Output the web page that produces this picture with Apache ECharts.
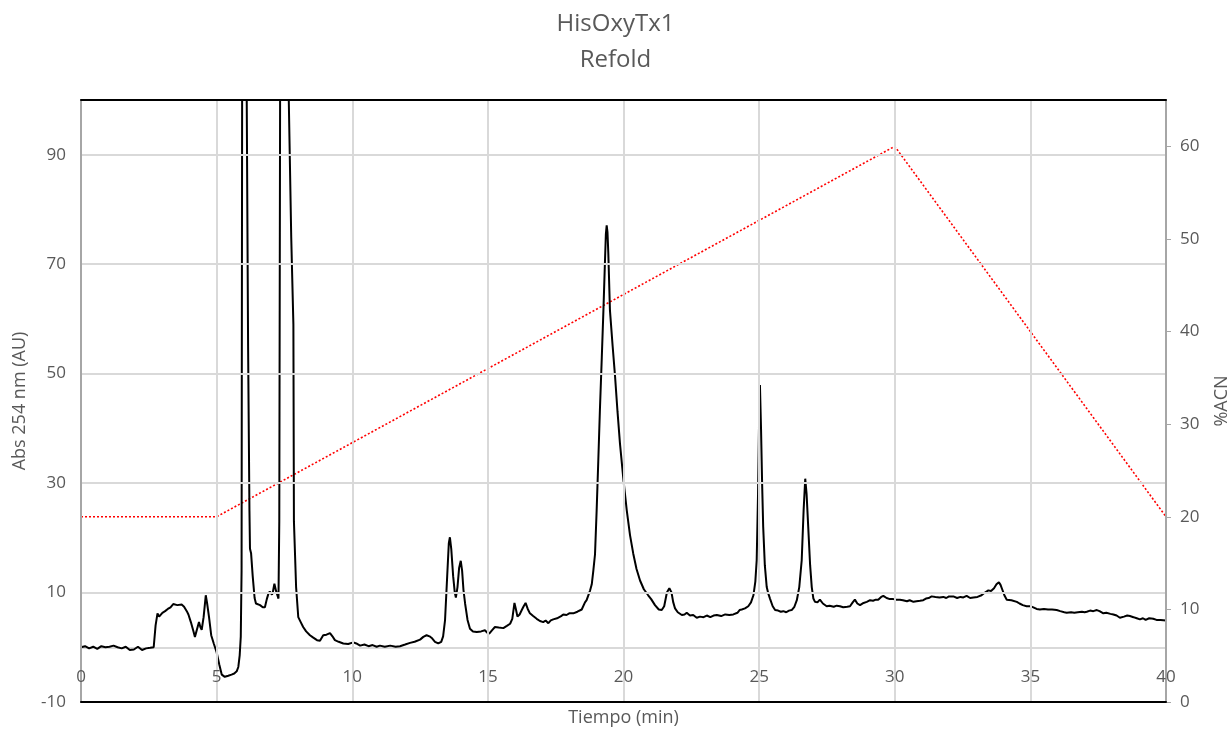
<!DOCTYPE html>
<html>
<head>
<meta charset="utf-8">
<title>HisOxyTx1 Refold</title>
<script src="https://cdn.jsdelivr.net/npm/echarts@6/dist/echarts.min.js"></script>
<style>
  html, body { margin: 0; padding: 0; background: #fff; }
  #chart { width: 1231px; height: 730px; }
</style>
</head>
<body>
<div id="chart"></div>
<script>
// Chromatogram trace: retention time (min) and absorbance at 254 nm (AU)
const timeMin = [
  0, 0.15, 0.3, 0.45, 0.6, 0.75, 0.9, 1.05, 1.2, 1.35, 1.5, 1.65, 1.8, 1.95, 2.1, 2.25, 2.4, 2.55, 2.68,
  2.75, 2.82, 2.88, 2.92, 3.0, 3.1, 3.2, 3.3, 3.4, 3.47, 3.55, 3.62, 3.71, 3.8, 3.9, 3.96, 4.05, 4.14, 4.2, 4.25,
  4.35, 4.4, 4.45, 4.52, 4.6, 4.65, 4.72, 4.8, 4.9, 5.0, 5.1, 5.19, 5.3, 5.43, 5.55, 5.65, 5.74, 5.8, 5.85, 5.89,
  5.92, 5.94, 6.02, 6.11, 6.16, 6.21, 6.23, 6.27, 6.33, 6.4, 6.45, 6.52, 6.6, 6.7, 6.78, 6.85, 6.91, 6.96, 6.99,
  7.04, 7.07, 7.13, 7.19, 7.24, 7.28, 7.31, 7.34, 7.5, 7.66, 7.75, 7.83, 7.85, 7.93, 8.01, 8.1, 8.19, 8.3, 8.44,
  8.55, 8.7, 8.81, 8.93, 9.05, 9.18, 9.27, 9.36, 9.5, 9.67, 9.85, 10.04, 10.15, 10.29, 10.45, 10.6, 10.75, 10.9,
  11.02, 11.2, 11.4, 11.6, 11.76, 11.95, 12.13, 12.3, 12.5, 12.62, 12.74, 12.85, 12.93, 13.05, 13.17, 13.28, 13.35,
  13.42, 13.5, 13.56, 13.6, 13.65, 13.72, 13.78, 13.82, 13.88, 13.94, 14.0, 14.05, 14.1, 14.16, 14.25, 14.34, 14.45,
  14.59, 14.75, 14.89, 14.97, 15.05, 15.15, 15.26, 15.4, 15.57, 15.7, 15.82, 15.9, 15.98, 16.04, 16.09, 16.17, 16.25,
  16.32, 16.39, 16.47, 16.55, 16.67, 16.8, 16.92, 17.04, 17.13, 17.23, 17.32, 17.41, 17.55, 17.7, 17.78, 17.9, 18.0,
  18.15, 18.3, 18.46, 18.58, 18.64, 18.77, 18.83, 18.89, 18.95, 19.01, 19.07, 19.13, 19.2, 19.26, 19.32, 19.35, 19.38,
  19.41, 19.44, 19.5, 19.6, 19.69, 19.78, 19.87, 20.0, 20.12, 20.24, 20.36, 20.48, 20.61, 20.75, 20.91, 21.02, 21.16,
  21.3, 21.41, 21.5, 21.6, 21.69, 21.77, 21.83, 21.9, 22.0, 22.15, 22.25, 22.33, 22.45, 22.57, 22.7, 22.82, 22.95,
  23.07, 23.2, 23.32, 23.44, 23.6, 23.75, 23.9, 24.05, 24.2, 24.28, 24.36, 24.48, 24.6, 24.7, 24.79, 24.86, 24.91,
  24.96, 25.0, 25.03, 25.07, 25.11, 25.15, 25.21, 25.28, 25.34, 25.4, 25.5, 25.59, 25.7, 25.8, 25.89, 26.0, 26.1,
  26.2, 26.3, 26.39, 26.48, 26.57, 26.64, 26.7, 26.75, 26.81, 26.88, 26.94, 27.0, 27.06, 27.15, 27.24, 27.35, 27.49,
  27.6, 27.75, 27.86, 27.98, 28.1, 28.25, 28.35, 28.45, 28.53, 28.62, 28.72, 28.85, 28.97, 29.09, 29.2, 29.3, 29.39,
  29.5, 29.58, 29.7, 29.82, 29.95, 30.05, 30.19, 30.3, 30.45, 30.55, 30.69, 30.8, 30.93, 31.05, 31.15, 31.25, 31.36,
  31.5, 31.65, 31.79, 31.9, 32.0, 32.16, 32.3, 32.42, 32.53, 32.65, 32.78, 32.9, 33.05, 33.2, 33.3, 33.45, 33.55,
  33.66, 33.75, 33.84, 33.9, 33.96, 34.05, 34.13, 34.3, 34.5, 34.6, 34.72, 34.86, 35.0, 35.11, 35.23, 35.35, 35.5,
  35.65, 35.8, 35.97, 36.1, 36.25, 36.34, 36.5, 36.62, 36.75, 36.9, 37.0, 37.08, 37.2, 37.32, 37.45, 37.55, 37.69,
  37.8, 37.95, 38.06, 38.18, 38.3, 38.45, 38.57, 38.67, 38.8, 38.92, 39.04, 39.15, 39.25, 39.38, 39.53, 39.65, 39.8,
  40.0
];
const absorbance = [
  0.0, 0.2, -0.2, 0.1, -0.3, 0.2, 0.0, 0.1, 0.3, 0.0, -0.2, 0.1, -0.5, -0.4, 0.1, -0.5, -0.2, -0.1, 0.0,
  4.0, 6.2, 5.6, 5.8, 6.3, 6.6, 7.0, 7.3, 7.9, 8.2, 7.7, 8.0, 7.8, 7.4, 6.6, 6.0, 4.6, 3.0, 1.9, 2.0,
  4.6, 3.7, 3.2, 5.5, 9.5, 8.0, 5.5, 2.2, 0.6, -0.9, -3.2, -5.0, -5.4, -5.2, -5.0, -4.8, -4.4, -3.6, -1.5, 1.9,
  14, 100, 140, 100, 55, 25, 18.0, 17.2, 13, 9.0, 8.0, 7.8, 7.7, 7.3, 7.3, 8.8, 9.8, 10.2, 10.0,
  9.6, 10.0, 11.6, 10.3, 9.5, 8.9, 23, 100, 170, 100, 75, 59, 23, 11, 5.5, 4.6, 3.7, 2.9, 2.2,
  1.8, 1.3, 1.2, 2.2, 2.3, 2.6, 2.0, 1.3, 1.0, 0.7, 0.6, 0.9, 0.7, 0.3, 0.5, 0.2, 0.4, 0.1,
  0.3, 0.1, 0.3, 0.1, 0.2, 0.5, 0.8, 1.0, 1.4, 1.9, 2.2, 2.0, 1.7, 1.0, 0.7, 1.0, 2.0,
  4.9, 13, 19, 20.1, 18, 13, 10, 9.1, 11, 14.5, 15.8, 14, 10.5, 8.0, 5.0, 3.4, 2.9,
  2.8, 2.9, 3.1, 2.7, 2.5, 3.1, 3.7, 3.6, 3.5, 3.9, 4.3, 5.2, 8.1, 6.8, 5.6, 6.0, 6.8,
  7.5, 8.1, 7.0, 6.2, 5.7, 5.2, 4.8, 4.6, 4.9, 4.4, 4.9, 5.1, 5.3, 5.7, 6.0, 5.9, 6.2,
  6.2, 6.5, 6.9, 8.2, 8.6, 10.4, 11.5, 14.1, 17, 25.0, 34, 43.3, 53, 61.6, 71, 75.5, 77.1,
  75.8, 72, 61.6, 55, 49.4, 43, 37.2, 30.5, 25.0, 20.5, 17.1, 14.3, 12.2, 10.6, 9.5, 8.8, 7.7,
  6.9, 6.8, 7.5, 10.0, 10.8, 10.0, 8.3, 7.1, 6.4, 5.9, 6.0, 6.3, 5.8, 5.9, 5.4, 5.6, 5.5,
  5.8, 5.5, 5.8, 5.9, 5.7, 6.0, 5.9, 6.0, 6.3, 6.8, 6.9, 7.1, 7.5, 8.2, 9.5, 12, 15.9,
  28, 42, 47.9, 40, 30, 22.0, 15, 11.0, 9.8, 8.9, 7.5, 6.8, 6.7, 6.5, 6.6, 6.4, 6.7,
  6.8, 7.4, 8.6, 11, 15.9, 25, 30.8, 28, 22.0, 15, 11.0, 8.9, 8.3, 8.2, 8.7, 8.0, 7.5,
  7.6, 7.4, 7.6, 7.5, 7.3, 7.4, 7.5, 8.2, 8.7, 8.0, 7.7, 8.1, 8.3, 8.6, 8.5, 8.7, 8.7,
  9.2, 9.4, 9.0, 8.8, 8.8, 8.7, 8.7, 8.6, 8.4, 8.6, 8.3, 8.4, 8.5, 8.6, 8.9, 9.0, 9.3,
  9.2, 9.1, 9.2, 9.0, 9.3, 9.3, 9.0, 9.2, 9.1, 9.4, 9.0, 9.1, 9.2, 9.5, 9.9, 10.4, 10.3,
  10.8, 11.5, 11.9, 11.4, 10.6, 9.4, 8.7, 8.6, 8.3, 8.0, 7.7, 7.5, 7.5, 7.3, 7.0, 6.9, 7.0,
  6.9, 6.9, 6.8, 6.6, 6.4, 6.3, 6.4, 6.3, 6.4, 6.5, 6.4, 6.5, 6.7, 6.6, 6.8, 6.6, 6.2,
  6.3, 6.1, 6.0, 5.8, 5.4, 5.6, 5.8, 5.7, 5.5, 5.3, 5.1, 5.3, 5.0, 5.3, 5.2, 5.0, 5.0,
  4.9
];

// Acetonitrile gradient program: time (min) and %ACN
const gradientTime = [0, 5, 30, 40];
const gradientACN = [20, 20, 60, 20];

// Axis ticks
const timeTicks = { min: 0, max: 40, step: 5 };
const absTicks = { min: -10, max: 100, step: 20 };
const acnTicks = { min: 0, max: 65, step: 10 };

const textColor = '#595959';
const gridColor = '#d9d9d9';
const axisGray = '#a6a6a6';
const fontFamily = '"Open Sans", "Noto Sans", sans-serif';

const traceData = timeMin.map((t, i) => [t, absorbance[i]]);
const gradientData = gradientTime.map((t, i) => [t, gradientACN[i]]);

const chart = echarts.init(document.getElementById('chart'), null, { renderer: 'canvas' });

chart.setOption({
  backgroundColor: '#ffffff',
  animation: false,
  textStyle: { fontFamily: fontFamily },
  title: {
    text: 'HisOxyTx1\nRefold',
    left: 'center',
    top: 6,
    padding: [0, 0, 0, 18],
    textStyle: {
      color: textColor,
      fontSize: 24,
      fontWeight: 'normal',
      lineHeight: 36,
      fontFamily: fontFamily
    }
  },
  grid: {
    left: 81,
    right: 65,
    top: 100,
    bottom: 28,
    outerBoundsMode: 'none',
    containLabel: false,
    show: false
  },
  xAxis: [{
    // time axis along the bottom edge, labels drawn inside the plot
    type: 'value',
    position: 'bottom',
    min: timeTicks.min,
    max: timeTicks.max,
    interval: timeTicks.step,
    axisLine: { show: true, onZero: false, lineStyle: { color: '#000000', width: 2 } },
    axisTick: { show: false },
    axisLabel: { inside: true, color: textColor, fontSize: 17, margin: 16, fontFamily: fontFamily },
    splitLine: { show: true, showMinLine: false, showMaxLine: false, lineStyle: { color: gridColor, width: 2 } },
    name: 'Tiempo (min)',
    nameLocation: 'middle',
    nameGap: 7,
    nameTextStyle: { color: textColor, fontSize: 18, fontFamily: fontFamily, verticalAlign: 'top' },
    z: 5
  }, {
    // frame line along the top edge
    type: 'value',
    position: 'top',
    min: timeTicks.min,
    max: timeTicks.max,
    interval: timeTicks.step,
    axisLine: { show: true, onZero: false, lineStyle: { color: '#000000', width: 2 } },
    axisTick: { show: false },
    axisLabel: { show: false },
    splitLine: { show: false },
    z: 5
  }, {
    // zero-absorbance line
    type: 'value',
    position: 'bottom',
    min: timeTicks.min,
    max: timeTicks.max,
    interval: timeTicks.step,
    axisLine: { show: true, onZero: true, onZeroAxisIndex: 0, lineStyle: { color: gridColor, width: 2 } },
    axisTick: { show: false },
    axisLabel: { show: false },
    splitLine: { show: false },
    z: 1
  }],
  yAxis: [{
    type: 'value',
    position: 'left',
    min: absTicks.min,
    max: absTicks.max,
    interval: absTicks.step,
    axisLine: { show: true, onZero: false, lineStyle: { color: axisGray, width: 2 } },
    axisTick: { show: false },
    axisLabel: { color: textColor, fontSize: 17, margin: 15, showMaxLabel: false, fontFamily: fontFamily },
    splitLine: { show: true, showMinLine: false, showMaxLine: false, lineStyle: { color: gridColor, width: 2 } },
    name: 'Abs 254 nm (AU)',
    nameLocation: 'middle',
    nameGap: 52,
    nameTextStyle: { color: textColor, fontSize: 18, fontFamily: fontFamily },
    z: 4
  }, {
    type: 'value',
    position: 'right',
    min: acnTicks.min,
    max: acnTicks.max,
    interval: acnTicks.step,
    axisLine: { show: true, onZero: false, lineStyle: { color: axisGray, width: 2 } },
    axisTick: { show: true, inside: false, length: 5, lineStyle: { color: axisGray, width: 1 } },
    axisLabel: { color: textColor, fontSize: 17, margin: 14, showMaxLabel: false, fontFamily: fontFamily },
    splitLine: { show: false },
    name: '%ACN',
    nameLocation: 'middle',
    nameGap: 47,
    nameRotate: 90,
    nameTextStyle: { color: textColor, fontSize: 18, fontFamily: fontFamily },
    z: 4
  }],
  series: [{
    name: '%ACN',
    type: 'line',
    xAxisIndex: 0,
    yAxisIndex: 1,
    data: gradientData,
    showSymbol: false,
    lineStyle: { color: '#ff0000', width: 1.6, type: [2, 2] },
    z: 2
  }, {
    name: 'Abs 254 nm',
    type: 'line',
    xAxisIndex: 0,
    yAxisIndex: 0,
    data: traceData,
    showSymbol: false,
    clip: true,
    lineStyle: { color: '#000000', width: 2 },
    z: 3
  }]
});
</script>
</body>
</html>
